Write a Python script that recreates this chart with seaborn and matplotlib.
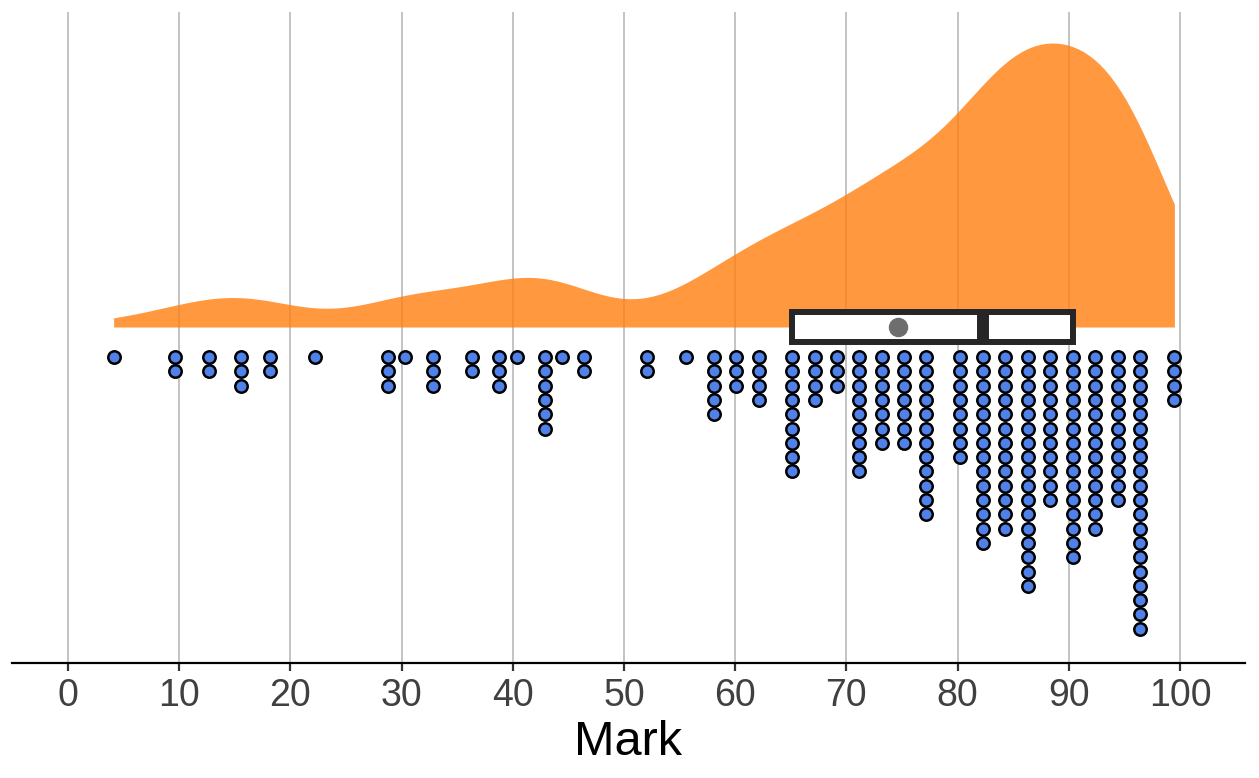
import numpy as np
import pandas as pd
import matplotlib
matplotlib.use("Agg")
import matplotlib.pyplot as plt
import seaborn as sns

# ---- data (dot-stack columns) ----
mark_values = [4.1, 9.6, 12.7, 15.6, 18.2, 22.2, 28.8, 30.3, 32.8, 36.3, 38.8, 40.4,
               42.9, 44.4, 46.4, 52.1, 55.6, 58.1, 60.1, 62.1, 65.1, 67.2, 69.2, 71.1,
               73.2, 75.2, 77.2, 80.2, 82.3, 84.3, 86.3, 88.3, 90.4, 92.4, 94.4, 96.4, 99.5]
mark_counts = [1, 2, 2, 3, 2, 1, 3, 1, 3, 2, 3, 1,
               6, 1, 2, 2, 1, 5, 3, 4, 9, 4, 3, 9,
               7, 7, 12, 8, 14, 13, 17, 11, 15, 13, 11, 20, 4]
x_ticks = [0, 10, 20, 30, 40, 50, 60, 70, 80, 90, 100]
x_label = "Mark"

marks = np.repeat(mark_values, mark_counts)

# stacked dot positions (dotplot layout)
dot_x, dot_row = [], []
for v, c in zip(mark_values, mark_counts):
    for k in range(c):
        dot_x.append(v)
        dot_row.append(k)
dots = pd.DataFrame({"x": dot_x, "row": dot_row})

sns.set_theme(style="white")
plt.rcParams["font.family"] = ["Liberation Sans", "DejaVu Sans"]

W, H = 1259, 778
fig = plt.figure(figsize=(W / 100, H / 100), dpi=100)
ax_left, ax_right, ax_top, ax_bot = 12, 1245, 12, 663
ax = fig.add_axes([ax_left / W, 1 - ax_bot / H, (ax_right - ax_left) / W, (ax_bot - ax_top) / H])

# ---- KDE half-violin ----
sns.kdeplot(x=marks, fill=True, cut=0, bw_adjust=0.6, color="#ff7f0e", alpha=0.8,
            linewidth=0, ax=ax, zorder=2)
dens_max = max(p.vertices[:, 1].max() for p in ax.collections[0].get_paths())
ax_h = ax_bot - ax_top
base_px, peak_px = 327, 43
span = dens_max * ax_h / (base_px - peak_px)
lo = -(ax_bot - base_px) / ax_h * span
ax.set_ylim(lo, lo + span)
ax.set_xlim(-5.04, 105.85)
ax.set_xticks(x_ticks)
ax.grid(axis="x", color="#b3b3b3", linewidth=1.1, zorder=0)
ax.grid(axis="y", visible=False)
ax.set_axisbelow(True)
ax.set_yticks([])
ax.set_ylabel("")
for s in ["left", "right", "top"]:
    ax.spines[s].set_visible(False)
ax.spines["bottom"].set_color("black")
ax.spines["bottom"].set_linewidth(1.6)
ax.tick_params(axis="x", bottom=True, length=6, width=1.6, color="#333333",
               labelsize=27, labelcolor="#404040", pad=5)
ax.set_xlabel(x_label, fontsize=35, color="black", labelpad=4)

# ---- box + dots on an overlaid axes ----
ax2 = ax.twinx()
ax2.patch.set_visible(False)
sns.boxplot(x=marks, orient="h", ax=ax2, width=2.03, whis=0, showcaps=False,
            showfliers=False, showmeans=True,
            boxprops=dict(facecolor="white", edgecolor="#262626", linewidth=4.3),
            medianprops=dict(color="#262626", linewidth=8.6),
            whiskerprops=dict(linewidth=0),
            meanprops=dict(marker="o", markerfacecolor="#6e6e6e", markeredgecolor="#6e6e6e",
                           markersize=13))
spacing = 14.3
first_row = -(357 - base_px) / spacing
dots["y"] = first_row - dots["row"]
sns.scatterplot(data=dots, x="x", y="y", ax=ax2, color="#4f81e8", edgecolor="black",
                linewidth=1.8, s=80, zorder=5, legend=False)
ax2.set_ylim(-(ax_bot - base_px) / spacing, (base_px - ax_top) / spacing)
ax2.set_xlim(-5.04, 105.85)
ax2.set_yticks([])
ax2.set_ylabel("")
ax2.set_xlabel("")
for s in ["left", "right", "top", "bottom"]:
    ax2.spines[s].set_visible(False)
ax2.grid(False)

fig.savefig("out.png", dpi=100)
